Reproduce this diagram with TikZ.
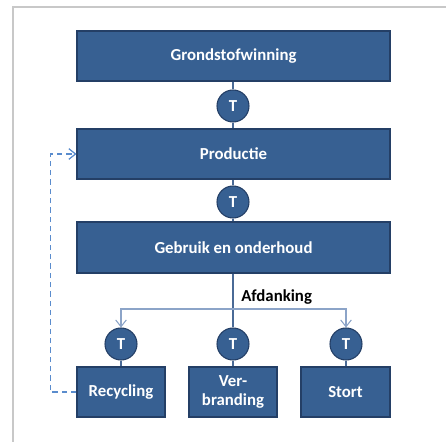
\documentclass[tikz,border=0pt]{standalone}
\usepackage{fontspec}
\setmainfont{Carlito}[BoldFont={Carlito Bold},ItalicFont={Carlito Italic},BoldItalicFont={Carlito Bold Italic}]
\usetikzlibrary{arrows.meta,positioning}
\definecolor{boxfill}{RGB}{55,96,146}
\definecolor{boxline}{RGB}{36,63,102}
\definecolor{conn}{RGB}{74,106,150}
\definecolor{connlight}{RGB}{140,164,200}
\definecolor{dashblue}{RGB}{90,140,205}
\definecolor{framegrey}{RGB}{200,200,200}
\begin{document}
\begin{tikzpicture}[x=0.75pt,y=-0.75pt,
  boxnode/.style={draw=boxline,line width=0.8pt,fill=boxfill,text=white,
    font=\bfseries\fontsize{12.6}{14}\selectfont,inner sep=0pt,align=center},
  tnode/.style={circle,draw=boxline,line width=0.8pt,fill=boxfill,text=white,
    font=\bfseries\fontsize{12.6}{13}\selectfont,minimum size=24pt,inner sep=0pt},
  connline/.style={draw=conn,line width=0.8pt},
  branch/.style={draw=connlight,line width=0.8pt,-{Straight Barb[length=5pt,width=8pt]}},
  recyc/.style={draw=dashblue,line width=0.9pt,dash pattern=on 4pt off 3pt,-{Straight Barb[length=5pt,width=8pt]}}
]
\useasboundingbox (0,0) rectangle (446,442);
\draw[framegrey,line width=1pt] (13,442) -- (13,7) -- (446,7);

\node[boxnode,minimum width=313*0.75pt,minimum height=50*0.75pt] (gw) at (233.5,56) {Grondstofwinning};
\node[tnode] (t1) at (233,106) {T};
\node[boxnode,minimum width=313*0.75pt,minimum height=50*0.75pt] (pr) at (233.5,154) {Productie};
\node[tnode] (t2) at (233,202) {T};
\node[boxnode,minimum width=313*0.75pt,minimum height=51*0.75pt] (ge) at (233.5,247.5) {Gebruik en onderhoud};

\node[tnode] (t3) at (121,344) {T};
\node[tnode] (t4) at (233,344) {T};
\node[tnode] (t5) at (346,344) {T};

\node[boxnode,minimum width=88*0.75pt,minimum height=50*0.75pt] (rc) at (121,392) {Recycling};
\node[boxnode,minimum width=88*0.75pt,minimum height=50*0.75pt] (vb) at (233,392) {Ver-\\branding};
\node[boxnode,minimum width=89*0.75pt,minimum height=50*0.75pt] (st) at (345.5,392) {Stort};

\node[font=\bfseries\fontsize{12.6}{13}\selectfont,anchor=west,inner sep=0pt] (af) at (241,297) {Afdanking};

\coordinate (split) at (233,309);

\draw[connline] (gw.south -| t1) -- (t1.north);
\draw[connline] (t1.south) -- (pr.north -| t1);
\draw[connline] (pr.south -| t2) -- (t2.north);
\draw[connline] (t2.south) -- (ge.north -| t2);
\draw[connline] (ge.south -| t4) -- (t4.north);
\draw[branch] (split) -| (t3.north);
\draw[branch] (split) -| (t5.north);
\draw[connline] (t3.south) -- (rc.north);
\draw[connline] (t4.south) -- (vb.north);
\draw[connline] (t5.south) -- (st.north -| t5);

\draw[recyc] (rc.west) -- ++(-26,0) |- (pr.west);
\end{tikzpicture}
\end{document}
